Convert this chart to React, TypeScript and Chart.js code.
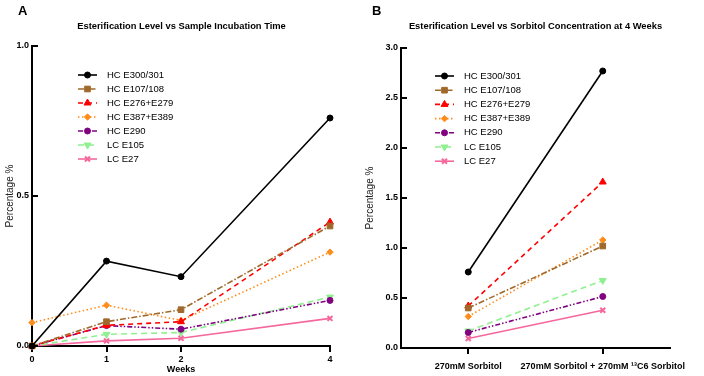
import React, { useEffect, useRef } from 'react';
import { Chart, registerables } from 'chart.js';
import { drawPoint } from 'chart.js/helpers';

Chart.register(...registerables);

// ---------- data ----------
const seriesLabels = ['HC E300/301', 'HC E107/108', 'HC E276+E279', 'HC E387+E389', 'HC E290', 'LC E105', 'LC E27'];

const weeks = [0, 1, 2, 4];
const weeksE300 = [0.0, 0.283, 0.231, 0.76];
const weeksE107 = [0.0, 0.081, 0.121, 0.4];
const weeksE276 = [0.0, 0.069, 0.081, 0.413];
const weeksE387 = [0.078, 0.136, 0.085, 0.313];
const weeksE290 = [0.0, 0.068, 0.056, 0.152];
const weeksE105 = [0.0, 0.039, 0.045, 0.163];
const weeksE27 = [0.0, 0.017, 0.026, 0.092];

const sorbitolCategories = ['270mM Sorbitol', '270mM Sorbitol + 270mM ¹³C6 Sorbitol'];
const sorbE300 = [0.76, 2.77];
const sorbE107 = [0.4, 1.02];
const sorbE276 = [0.42, 1.66];
const sorbE387 = [0.315, 1.08];
const sorbE290 = [0.155, 0.515];
const sorbE105 = [0.17, 0.675];
const sorbE27 = [0.095, 0.377];

const weekTicks = [0, 1, 2, 4];
const percentTicksA = [0, 0.5, 1.0];
const percentTicksB = [0, 0.5, 1.0, 1.5, 2.0, 2.5, 3.0];

// ---------- styles ----------
const FONT = '"Liberation Sans", Arial, Helvetica, sans-serif';
const seriesStyles = [
  { color: '#000000', dash: [], point: 'circle', radius: 3, rotation: 0, pbw: 1 },
  { color: '#A0692C', dash: [6, 2, 1.5, 2], point: 'rect', radius: 4, rotation: 0, pbw: 1 },
  { color: '#FF0000', dash: [5, 4], point: 'triangle', radius: 4, rotation: 0, pbw: 1 },
  { color: '#FF8C1A', dash: [1.5, 2.5], point: 'rectRot', radius: 3.2, rotation: 0, pbw: 1 },
  { color: '#800080', dash: [5, 2, 1.5, 2, 1.5, 2], point: 'circle', radius: 3, rotation: 0, pbw: 1 },
  { color: '#90F090', dash: [6, 4], point: 'triangle', radius: 4, rotation: 180, pbw: 1 },
  { color: '#F4689C', dash: [], point: 'crossRot', radius: 3.5, rotation: 0, pbw: 2 },
];

function makeDatasets(values: number[][], xs: (number | string)[] | null) {
  return values.map((vals, i) => {
    const s = seriesStyles[i];
    return {
      label: seriesLabels[i],
      data: xs && typeof xs[0] === 'number' ? vals.map((v, j) => ({ x: xs[j] as number, y: v })) : vals,
      borderColor: s.color,
      backgroundColor: s.color,
      borderWidth: 1.6,
      borderDash: s.dash,
      pointStyle: s.point,
      pointRadius: s.radius,
      pointRotation: s.rotation,
      pointBackgroundColor: s.color,
      pointBorderColor: s.color,
      pointBorderWidth: s.pbw,
      tension: 0,
      clip: false,
      fill: false,
    };
  });
}

function decorPlugin(cfg: any) {
  return {
    id: 'decor' + cfg.letter,
    afterDraw(chart: any) {
      const ctx = chart.ctx;
      const ca = chart.chartArea;
      ctx.save();
      // inward y ticks
      const ys = chart.scales.y;
      ctx.strokeStyle = '#000';
      ctx.lineWidth = 2;
      ctx.setLineDash([]);
      ys.ticks.forEach((t: any) => {
        const py = ys.getPixelForValue(t.value);
        ctx.beginPath();
        ctx.moveTo(ca.left, py);
        ctx.lineTo(ca.left + 6, py);
        ctx.stroke();
      });
      // panel letter & title
      ctx.fillStyle = '#000';
      ctx.textBaseline = 'alphabetic';
      ctx.textAlign = 'left';
      ctx.font = `bold 13px ${FONT}`;
      ctx.fillText(cfg.letter, cfg.letterX, 14.5);
      ctx.textAlign = 'center';
      ctx.font = `bold 9.35px ${FONT}`;
      ctx.fillText(cfg.title, cfg.titleX, 28.5);
      // legend
      chart.data.datasets.forEach((ds: any, i: number) => {
        const y = cfg.legendY + i * cfg.legendStep;
        ctx.strokeStyle = ds.borderColor;
        ctx.lineWidth = ds.borderWidth;
        ctx.setLineDash(ds.borderDash || []);
        ctx.beginPath();
        ctx.moveTo(cfg.legendX, y);
        ctx.lineTo(cfg.legendX + 19, y);
        ctx.stroke();
        ctx.setLineDash([]);
        ctx.fillStyle = ds.pointBackgroundColor;
        ctx.strokeStyle = ds.pointBorderColor;
        ctx.lineWidth = ds.pointBorderWidth;
        drawPoint(ctx, {
          pointStyle: ds.pointStyle,
          rotation: ds.pointRotation || 0,
          radius: ds.pointRadius,
          borderWidth: ds.pointBorderWidth,
        } as any, cfg.legendX + 9.5, y);
        ctx.fillStyle = '#000';
        ctx.font = `9.5px ${FONT}`;
        ctx.textAlign = 'left';
        ctx.textBaseline = 'middle';
        ctx.fillText(ds.label, cfg.legendX + 29, y);
      });
      ctx.restore();
    },
  };
}

const tickFont = { family: FONT, size: 9, weight: 'bold' as const };

function yAxis(width: number, ticksList: number[], max: number) {
  return {
    type: 'linear' as const,
    min: 0,
    max,
    afterBuildTicks: (s: any) => { s.ticks = ticksList.map((v) => ({ value: v })); },
    afterFit: (s: any) => { s.width = width; },
    grid: { display: false, drawTicks: false, tickLength: 0 },
    border: { display: true, color: '#000', width: 2 },
    ticks: { color: '#000', font: tickFont, padding: 3, callback: (v: any) => Number(v).toFixed(1) },
    title: { display: true, text: 'Percentage %', color: '#222', font: { family: FONT, size: 10 }, padding: { top: 4, bottom: 0 } },
  };
}

export default function App() {
  const refA = useRef<HTMLCanvasElement>(null);
  const refB = useRef<HTMLCanvasElement>(null);

  useEffect(() => {
    const chartA = new Chart(refA.current as HTMLCanvasElement, {
      type: 'line',
      data: {
        datasets: makeDatasets([weeksE300, weeksE107, weeksE276, weeksE387, weeksE290, weeksE105, weeksE27], weeks) as any,
      },
      options: {
        responsive: false,
        animation: false,
        layout: { padding: { left: 0, right: 22, top: 46, bottom: 0 } },
        plugins: { legend: { display: false }, tooltip: { enabled: false }, title: { display: false } },
        scales: {
          x: {
            type: 'linear',
            min: 0,
            max: 4,
            afterBuildTicks: (s: any) => { s.ticks = weekTicks.map((v) => ({ value: v })); },
            afterFit: (s: any) => { s.height = 30; },
            grid: { display: true, drawOnChartArea: false, drawTicks: true, tickLength: 6, color: '#000', lineWidth: 2 },
            border: { display: true, color: '#000', width: 2 },
            ticks: { color: '#000', font: tickFont, padding: 2.5, maxRotation: 0, callback: (v: any) => String(v) },
            title: { display: true, text: 'Weeks', color: '#000', font: { family: FONT, size: 9, weight: 'bold' }, padding: { top: 0, bottom: 1.5 } },
          },
          y: yAxis(32, percentTicksA, 1.0),
        },
      } as any,
      plugins: [decorPlugin({ letter: 'A', letterX: 18, title: 'Esterification Level vs Sample Incubation Time', titleX: 181.5, legendX: 78, legendY: 75, legendStep: 14 })],
    });

    const chartB = new Chart(refB.current as HTMLCanvasElement, {
      type: 'line',
      data: {
        labels: sorbitolCategories,
        datasets: makeDatasets([sorbE300, sorbE107, sorbE276, sorbE387, sorbE290, sorbE105, sorbE27], null) as any,
      },
      options: {
        responsive: false,
        animation: false,
        layout: { padding: { left: 8, right: 34, top: 48, bottom: 0 } },
        plugins: { legend: { display: false }, tooltip: { enabled: false }, title: { display: false } },
        scales: {
          x: {
            type: 'category',
            offset: true,
            afterFit: (s: any) => { s.height = 28; },
            grid: { display: true, drawOnChartArea: false, drawTicks: true, tickLength: 6, color: '#000', lineWidth: 2, offset: false },
            border: { display: true, color: '#000', width: 2 },
            ticks: { color: '#000', font: tickFont, padding: 7, maxRotation: 0, minRotation: 0, autoSkip: false },
          },
          y: yAxis(41, percentTicksB, 3.0),
        },
      } as any,
      plugins: [decorPlugin({ letter: 'B', letterX: 20, title: 'Esterification Level vs Sorbitol Concentration at 4 Weeks', titleX: 183.5, legendX: 83, legendY: 76, legendStep: 14.2 })],
    });

    return () => {
      chartA.destroy();
      chartB.destroy();
    };
  }, []);

  return (
    <div style={{ position: 'fixed', left: 0, top: 0, width: 704, height: 376, background: '#fff' }}>
      <canvas ref={refA} width={352} height={376} style={{ position: 'absolute', left: 0, top: 0, width: 352, height: 376 }} />
      <canvas ref={refB} width={352} height={376} style={{ position: 'absolute', left: 352, top: 0, width: 352, height: 376 }} />
    </div>
  );
}
